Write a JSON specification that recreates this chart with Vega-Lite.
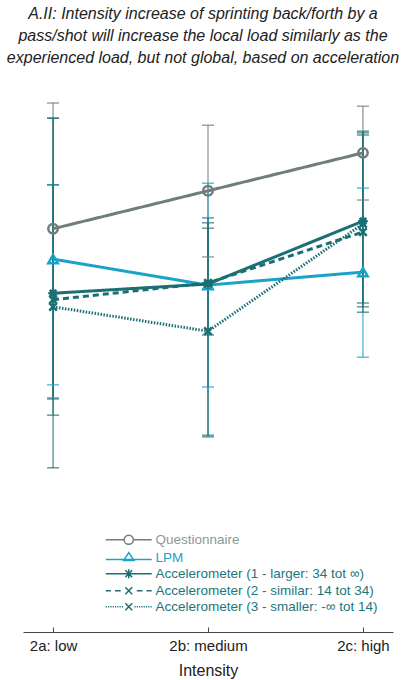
{
  "$schema": "https://vega.github.io/schema/vega-lite/v6.json",
  "width": 370,
  "height": 542,
  "autosize": {"type": "none"},
  "padding": {"left": 23, "top": 90, "right": 13, "bottom": 48},
  "background": "white",
  "config": {"view": {"stroke": null}, "font": "Liberation Sans"},
  "title": {
    "text": ["A.II: Intensity increase of sprinting back/forth by a", "pass/shot will increase the local load similarly as the", "experienced load, but not global, based on acceleration"],
    "fontSize": 16,
    "fontStyle": "italic",
    "fontWeight": "normal",
    "color": "#222222",
    "lineHeight": 22,
    "anchor": "middle",
    "offset": 24,
    "dx": -5
  },
  "data": {
    "values": [
      {"intensity": "2a: low", "series": "Questionnaire", "mean": 7.44, "lo": 4.32, "hi": 9.76},
      {"intensity": "2b: medium", "series": "Questionnaire", "mean": 8.14, "lo": 6.92, "hi": 9.35},
      {"intensity": "2c: high", "series": "Questionnaire", "mean": 8.84, "lo": 7.97, "hi": 9.70},
      {"intensity": "2a: low", "series": "LPM", "mean": 6.88, "lo": 4.56, "hi": 8.25},
      {"intensity": "2b: medium", "series": "LPM", "mean": 6.40, "lo": 4.52, "hi": 8.28},
      {"intensity": "2c: high", "series": "LPM", "mean": 6.64, "lo": 5.07, "hi": 8.19},
      {"intensity": "2a: low", "series": "Accelerometer (1 - larger: 34 tot ∞)", "mean": 6.25, "lo": 3.03, "hi": 9.48},
      {"intensity": "2b: medium", "series": "Accelerometer (1 - larger: 34 tot ∞)", "mean": 6.42, "lo": 5.48, "hi": 7.64},
      {"intensity": "2c: high", "series": "Accelerometer (1 - larger: 34 tot ∞)", "mean": 7.58, "lo": 6.07, "hi": 9.24},
      {"intensity": "2a: low", "series": "Accelerometer (2 - similar: 14 tot 34)", "mean": 6.13, "lo": 4.00, "hi": 9.48},
      {"intensity": "2b: medium", "series": "Accelerometer (2 - similar: 14 tot 34)", "mean": 6.44, "lo": 3.63, "hi": 7.55},
      {"intensity": "2c: high", "series": "Accelerometer (2 - similar: 14 tot 34)", "mean": 7.38, "lo": 6.00, "hi": 9.21},
      {"intensity": "2a: low", "series": "Accelerometer (3 - smaller: -∞ tot 14)", "mean": 6.00, "lo": 4.30, "hi": 8.25},
      {"intensity": "2b: medium", "series": "Accelerometer (3 - smaller: -∞ tot 14)", "mean": 5.55, "lo": 3.60, "hi": 7.45},
      {"intensity": "2c: high", "series": "Accelerometer (3 - smaller: -∞ tot 14)", "mean": 7.53, "lo": 5.90, "hi": 9.17}
    ]
  },
  "encoding": {
    "x": {
      "field": "intensity",
      "type": "nominal",
      "scale": {"type": "point", "padding": 0.194},
      "sort": ["2a: low", "2b: medium", "2c: high"],
      "axis": {
        "title": "Intensity",
        "titleFontSize": 16,
        "titleFontWeight": "normal",
        "titleColor": "#222222",
        "titlePadding": 9,
        "labelAngle": 0,
        "labelFontSize": 15,
        "labelColor": "#222222",
        "labelPadding": 11,
        "domainColor": "#444444",
        "tickColor": "#444444",
        "tickSize": -5,
        "grid": false
      }
    },
    "color": {
      "field": "series",
      "type": "nominal",
      "scale": {
        "domain": ["Questionnaire", "LPM", "Accelerometer (1 - larger: 34 tot ∞)", "Accelerometer (2 - similar: 14 tot 34)", "Accelerometer (3 - smaller: -∞ tot 14)"],
        "range": ["#6f7d7d", "#1aa3c8", "#1b6f73", "#1b6f73", "#1b6f73"]
      },
      "legend": null
    }
  },
  "layer": [
    {
      "mark": {"type": "rule", "strokeWidth": 1},
      "encoding": {
        "y": {"field": "lo", "type": "quantitative", "scale": {"domain": [0, 10], "nice": false, "zero": false}, "axis": null},
        "y2": {"field": "hi"}
      }
    },
    {
      "mark": {"type": "tick", "thickness": 1.5, "size": 12},
      "encoding": {"y": {"field": "lo", "type": "quantitative"}}
    },
    {
      "mark": {"type": "tick", "thickness": 1.5, "size": 12},
      "encoding": {"y": {"field": "hi", "type": "quantitative"}}
    },
    {
      "mark": {"type": "line"},
      "encoding": {
        "y": {"field": "mean", "type": "quantitative"},
        "detail": {"field": "series"},
        "strokeDash": {
          "field": "series",
          "type": "nominal",
          "scale": {
            "domain": ["Questionnaire", "LPM", "Accelerometer (1 - larger: 34 tot ∞)", "Accelerometer (2 - similar: 14 tot 34)", "Accelerometer (3 - smaller: -∞ tot 14)"],
            "range": [[1, 0], [1, 0], [1, 0], [6, 4], [1.5, 1.5]]
          },
          "legend": null
        },
        "strokeWidth": {
          "field": "series",
          "type": "nominal",
          "scale": {
            "domain": ["Questionnaire", "LPM", "Accelerometer (1 - larger: 34 tot ∞)", "Accelerometer (2 - similar: 14 tot 34)", "Accelerometer (3 - smaller: -∞ tot 14)"],
            "range": [3, 3, 2, 2, 2]
          },
          "legend": null
        }
      }
    },
    {
      "mark": {"type": "point", "filled": false, "size": 90, "strokeWidth": 2.5, "opacity": 1},
      "encoding": {
        "y": {"field": "mean", "type": "quantitative"},
        "shape": {
          "field": "series",
          "type": "nominal",
          "scale": {
            "domain": ["Questionnaire", "LPM", "Accelerometer (1 - larger: 34 tot ∞)", "Accelerometer (2 - similar: 14 tot 34)", "Accelerometer (3 - smaller: -∞ tot 14)"],
            "range": ["circle", "triangle-up", "M-1,0H1M0,-1V1M-0.7,-0.7L0.7,0.7M-0.7,0.7L0.7,-0.7", "M-0.8,-0.8L0.8,0.8M-0.8,0.8L0.8,-0.8", "M-0.8,-0.8L0.8,0.8M-0.8,0.8L0.8,-0.8"]
          },
          "legend": null
        }
      }
    },
    {
      "mark": {"type": "point", "filled": false, "opacity": 0, "size": 10},
      "encoding": {
        "y": {"field": "mean", "type": "quantitative"},
        "shape": {
          "field": "series",
          "type": "nominal",
          "scale": {
            "domain": ["Questionnaire", "LPM", "Accelerometer (1 - larger: 34 tot ∞)", "Accelerometer (2 - similar: 14 tot 34)", "Accelerometer (3 - smaller: -∞ tot 14)"],
            "range": [
              "M-4,0H-0.8M0.8,0H4M-0.8,0A0.8,0.8 0 1,1 0.8,0A0.8,0.8 0 1,1 -0.8,0",
              "M-4,0.3H4M-0.9,0.5L0,-0.9L0.9,0.5Z",
              "M-4,0H4M-0.8,0H0.8M0,-0.8V0.8M-0.6,-0.6L0.6,0.6M-0.6,0.6L0.6,-0.6",
              "M-4,0H-3.1M-2.4,0H-1.4M1.4,0H2.4M3.1,0H4M-0.6,-0.6L0.6,0.6M-0.6,0.6L0.6,-0.6",
              "M-4,0H-3.8M-3.6,0H-3.4M-3.2,0H-3M-2.8,0H-2.6M-2.4,0H-2.2M-2,0H-1.8M-1.6,0H-1.4M-1.2,0H-1M1,0H1.2M1.4,0H1.6M1.8,0H2M2.2,0H2.4M2.6,0H2.8M3,0H3.2M3.4,0H3.6M3.8,0H4M-0.6,-0.6L0.6,0.6M-0.6,0.6L0.6,-0.6"
            ]
          },
          "legend": {
            "title": null,
            "orient": "none",
            "legendX": 99,
            "legendY": 443,
            "symbolSize": 132,
            "symbolStrokeWidth": 1.5,
            "symbolOpacity": 1,
            "symbolFillColor": "transparent",
            "symbolStrokeColor": {"expr": "datum.value === 'Questionnaire' ? '#6f7d7d' : datum.value === 'LPM' ? '#1aa3c8' : '#1b6f73'"},
            "labelColor": {"expr": "datum.value === 'Questionnaire' ? '#8d9898' : datum.value === 'LPM' ? '#1aa3c8' : '#1b767b'"},
            "labelFontSize": 13.5,
            "labelFont": "Liberation Sans",
            "labelLimit": 400,
            "labelOffset": 20,
            "rowPadding": 1
          }
        }
      }
    }
  ],
  "resolve": {"scale": {"shape": "independent"}}
}
